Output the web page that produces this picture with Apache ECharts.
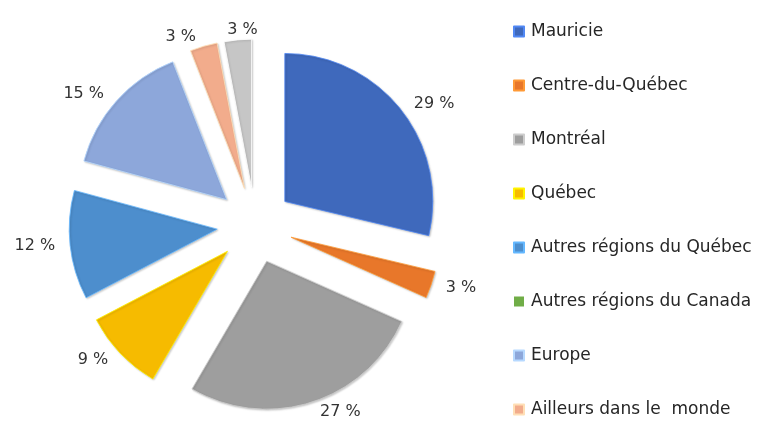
<!DOCTYPE html>
<html><head><meta charset="utf-8">
<script src="https://cdn.jsdelivr.net/npm/echarts@6/dist/echarts.min.js"></script>
<style>html,body{margin:0;padding:0;background:#fff}#c{width:760px;height:429px}</style>
</head><body><div id="c"></div>
<script>
const categories = ['Mauricie','Centre-du-Québec','Montréal','Québec','Autres régions du Québec','Autres régions du Canada','Europe','Ailleurs dans le  monde','Autre'];
const values = [29, 3, 27, 9, 12, 0, 15, 3, 3];
const colors = ['#3F69BC','#E8772A','#9E9E9E','#F6BB00','#4D8ECD','#70AD47','#8DA7DA','#F2AC8C','#C6C6C6'];
const legendNames = categories.slice(0, 8);

const chart = echarts.init(document.getElementById('c'));
const data = categories.map((n, i) => {
  const c = colors[i];
  const item = {
    name: n, value: values[i], selected: true,
    itemStyle: {
      color: c,
      borderColor: echarts.color.lift(c, -0.3), borderWidth: values[i] === 0 ? 0 : 0.8,
      shadowBlur: values[i] === 0 ? 0 : 2, shadowColor: 'rgba(0,0,0,0.2)', shadowOffsetX: 1, shadowOffsetY: 1
    }
  };
  if (values[i] === 0) item.label = {show: false};
  return item;
});
// last (unlisted) slice: nudge its label right so it sits above the slice as in the original
data[8].label = {padding: [0, -26, 0, 0]};

chart.setOption({
  animation: false,
  color: colors,
  legend: {
    data: legendNames, orient: 'vertical', left: 508, top: 18,
    itemWidth: 10, itemHeight: 10, itemGap: 37, icon: 'rect',
    textStyle: {fontFamily: 'DejaVu Sans', fontSize: 17, color: '#262626', padding: [0,0,0,2]}
  },
  series: [{
    type: 'pie', center: [255, 225], radius: 148, startAngle: 90, clockwise: true,
    selectedMode: 'multiple', selectedOffset: 38, avoidLabelOverlap: false,
    labelLayout: {hideOverlap: false},
    label: {show: true, position: 'outside', formatter: '{c} %', fontFamily: 'DejaVu Sans', fontSize: 16, color: '#333'},
    labelLine: {show: false, length: 10, length2: 0},
    emphasis: {disabled: true},
    data: data
  }]
});
</script></body></html>
